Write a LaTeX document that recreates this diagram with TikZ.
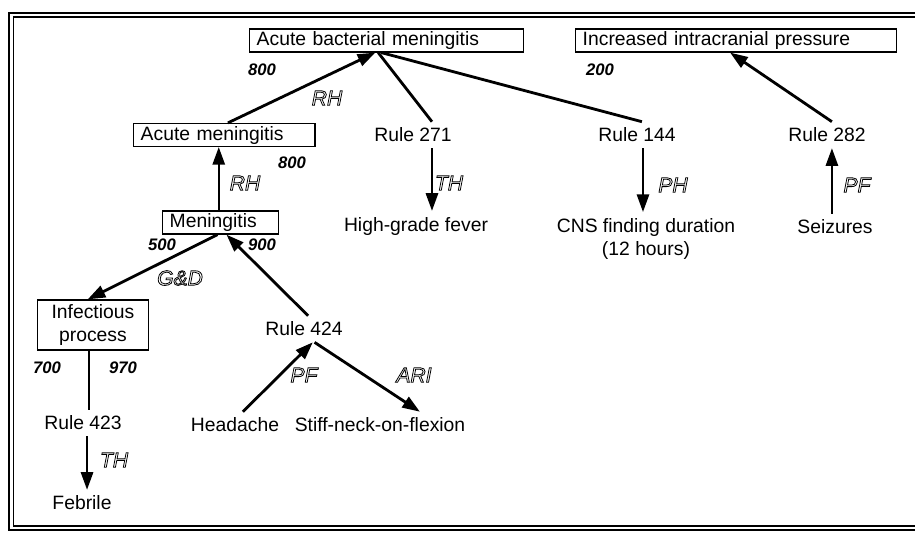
\documentclass[tikz,border=0pt]{standalone}
\usepackage{fontspec}
\setmainfont{Liberation Sans}
\usetikzlibrary{arrows.meta}
\newcommand{\hollowtext}{\special{pdf:literal direct 1 Tr 0.45 w}}
\begin{document}
\begin{tikzpicture}[
x=0.02cm, y=-0.02cm,
every node/.style={font=\fontsize{11}{13.5}\selectfont},
box/.style={
draw,
line width=0.8pt,
anchor=west,
align=left,
inner xsep=4pt,
inner ysep=0pt,
minimum height=13pt
},
weight/.style={font=\fontsize{9.5}{11}\selectfont\bfseries\itshape},
rel/.style={font=\fontsize{12}{14}\selectfont\itshape\hollowtext},
arrow/.style={-{Triangle[length=10pt,width=7pt]}, line width=1.6pt},
link/.style={line width=1.6pt},
varrow/.style={-{Triangle[length=10pt,width=7pt]}, line width=1.1pt},
vlink/.style={line width=1.1pt}
]
\useasboundingbox (0,0) rectangle (915,532);
\draw[line width=1.4pt] (915,13) -| (9,530) -- (915,530);
\draw[line width=0.9pt] (915,17) -| (13.5,526) -- (915,526);
\node[box,text width=147.9pt] (abm) at (249,40.5) {Acute bacterial meningitis};
\node[box,text width=174.6pt] (icp) at (575,40.5) {Increased intracranial pressure};
\node[box,text width=95.2pt] (am) at (133,135) {Acute meningitis};
\node[box,text width=57.8pt] (men) at (162,222.5) {Meningitis};
\node[box,text width=54.9pt,align=center,minimum height=28.4pt] (ip) at (37,325)
{Infectious\\process};
\node (r271) at (413,135) {Rule 271};
\node (hgf) at (416,226) {High-grade fever};
\node (r144) at (637,135) {Rule 144};
\node[align=center] (cns) at (646,239) {CNS finding duration\\(12 hours)};
\node (r282) at (827,135) {Rule 282};
\node (seiz) at (835,227) {Seizures};
\node (r424) at (304,329) {Rule 424};
\node (head) at (235,425) {Headache};
\node (stiff) at (380,425) {Stiff-neck-on-flexion};
\node (r423) at (83,423) {Rule 423};
\node (feb) at (82,503) {Febrile};
\node[weight] (w1) at (262,70) {800};
\node[weight] (w2) at (600,70) {200};
\node[weight] (w3) at (292,163) {800};
\node[weight] (w4) at (162,245) {500};
\node[weight] (w5) at (262,245) {900};
\node[weight] (w6) at (47,368) {700};
\node[weight] (w7) at (123,368) {970};
\node[rel] (l1) at (327,98) {RH};
\node[rel] (l2) at (245,183) {RH};
\node[rel] (l3) at (449,183) {TH};
\node[rel] (l4) at (673,185) {PH};
\node[rel] (l5) at (857,185) {PF};
\node[rel] (l6) at (180,278) {G\&D};
\node[rel] (l7) at (304,375) {PF};
\node[rel] (l8) at (414,375) {ARI};
\node[rel] (l9) at (114,460) {TH};
\draw[arrow] ([xshift=2pt]am.north) -- ([xshift=-6.5pt]abm.south);
\draw[link] ([xshift=-4.8pt]abm.south) -- ([xshift=10.8pt]r271.north);
\draw[link] ([xshift=-3pt]abm.south) -- ([xshift=2.8pt]r144.north);
\draw[varrow] ([xshift=10.8pt]r271.south) -- ([xshift=10.8pt]r271.south |- hgf.north);
\draw[varrow] ([xshift=3.4pt]r144.south) -- ([xshift=3.4pt]r144.south |- cns.north);
\draw[arrow] ([xshift=2.8pt]r282.north) -- ([xshift=-3.4pt]icp.south);
\draw[varrow] ([xshift=2.8pt]r282.south |- seiz.north) -- ([xshift=2.8pt]r282.south);
\draw[varrow] ([xshift=-1pt]men.north) -- ([xshift=-1pt]men.north |- am.south);
\draw[arrow] ([xshift=-1.7pt]men.south) -- ([xshift=-3pt]ip.north);
\draw[arrow] ([xshift=2.3pt]r424.north) -- ([xshift=3.4pt]men.south);
\draw[vlink] ([xshift=-2.5pt]ip.south) -- ([xshift=-2.5pt]ip.south |- r423.north);
\draw[varrow] ([xshift=2.3pt]r423.south) -- ([xshift=2.3pt]r423.south |- feb.north);
\draw[arrow] ([xshift=4.5pt]head.north) -- ([xshift=5pt]r424.south);
\draw[arrow] ([xshift=6pt]r424.south) -- ([xshift=22.7pt]stiff.north);
\end{tikzpicture}
\end{document}
